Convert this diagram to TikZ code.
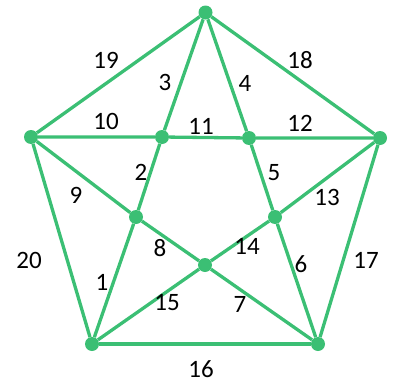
\documentclass[tikz,border=0pt]{standalone}
\usepackage{fontspec}
\setmainfont{Carlito}
\usepackage{xcolor}
\definecolor{edgegreen}{RGB}{59,191,116}

\begin{document}
\begin{tikzpicture}[
  x=1pt, y=-1pt,
  vertex/.style={circle, fill=edgegreen, inner sep=0pt, minimum size=14pt},
  edge/.style={draw=edgegreen, line width=3.3pt},
  lbl/.style={font=\fontsize{25}{28}\selectfont, inner sep=0pt}
]
\useasboundingbox (0,0) rectangle (394,383);
\foreach \n/\x/\y in {t/205.5/12.5, l/31/137, r/380/138, bl/92/344, br/318/344,
                      il/162/137, ir/249/138, ml/136/217, mr/275/217, c/205/265} {
  \node[vertex] (\n) at (\x,\y) {};
}
% outer pentagon
\draw[edge] (t) -- (l);
\draw[edge] (t) -- (r);
\draw[edge] (l) -- (bl);
\draw[edge] (r) -- (br);
\draw[edge] (bl) -- (br);
% star
\draw[edge] (t) -- (il) -- (ml) -- (bl);
\draw[edge] (t) -- (ir) -- (mr) -- (br);
\draw[edge] (l) -- (il) -- (ir) -- (r);
\draw[edge] (l) -- (ml) -- (c) -- (br);
\draw[edge] (r) -- (mr) -- (c) -- (bl);
% edge numbers
\foreach \k/\x/\y in {1/102/282, 2/141/172, 3/165/82, 4/245/83, 5/274/173,
                      6/301/264, 7/240/304, 8/160/248, 9/76/195, 10/106/121,
                      11/201/126, 12/300/123, 13/327/197, 14/247/246, 15/167/303,
                      16/201/369, 17/366/260, 18/300/60, 19/106/60, 20/29/260} {
  \node[lbl] (e\k) at (\x,\y) {\k};
}
\end{tikzpicture}
\end{document}
